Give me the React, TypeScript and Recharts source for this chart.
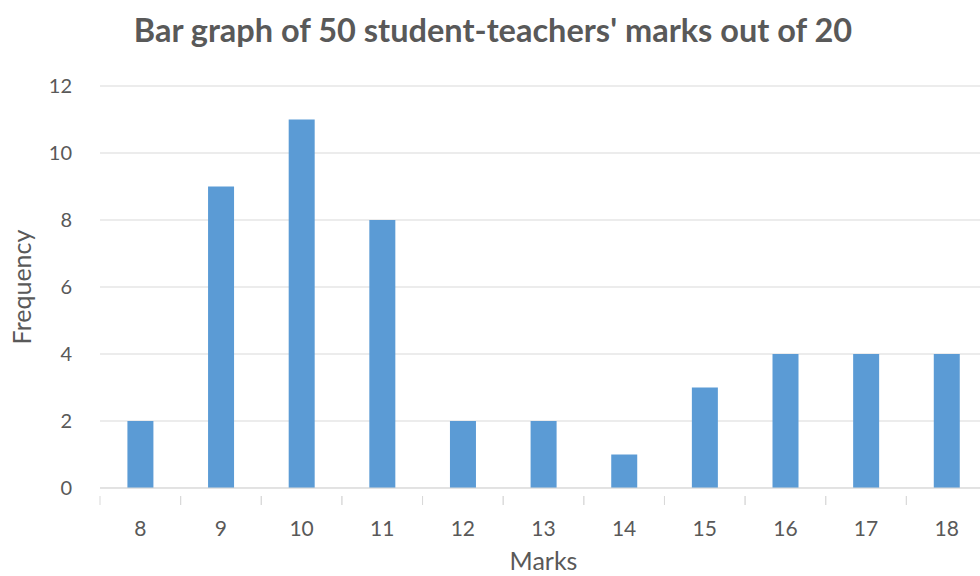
import { Bar, BarChart, CartesianGrid, XAxis, YAxis } from "recharts";

const marks = ["8", "9", "10", "11", "12", "13", "14", "15", "16", "17", "18"];
const frequency = [2, 9, 11, 8, 2, 2, 1, 3, 4, 4, 4];
const yTicks = [0, 2, 4, 6, 8, 10, 12];

const data = marks.map((m, i) => ({ mark: m, freq: frequency[i] }));

const textColor = "#595959";
const lineColor = "#d9d9d9";
const font = "Lato, 'Open Sans', sans-serif";

function MarkTick(props: any) {
  const { x, y, payload } = props;
  const half = payload?.offset ?? 40.3;
  return (
    <g>
      <line x1={x - half} x2={x - half} y1={y} y2={y + 9} stroke={lineColor} />
      <line x1={x + half} x2={x + half} y1={y} y2={y + 9} stroke={lineColor} />
      <text x={x} y={y + 40} textAnchor="middle" fill={textColor} fontSize={21} fontFamily={font}>
        {payload.value}
      </text>
    </g>
  );
}

export default function App() {
  return (
    <div
      style={{
        position: "absolute",
        left: 0,
        top: 0,
        width: 980,
        height: 576,
        overflow: "hidden",
        background: "#fff",
        fontFamily: font,
      }}
    >
      <div
        style={{
          position: "absolute",
          top: 10,
          left: 0,
          width: 986,
          textAlign: "center",
          fontSize: 32.5,
          fontWeight: 700,
          color: textColor,
        }}
      >
        Bar graph of 50 student-teachers' marks out of 20
      </div>
      <BarChart
        width={987}
        height={576}
        data={data}
        margin={{ top: 86, right: 0, bottom: 0, left: 0 }}
        barCategoryGap="34%"
      >
        <CartesianGrid stroke={lineColor} vertical={false} />
        <XAxis
          dataKey="mark"
          height={88}
          stroke={lineColor}
          tickLine={false}
          tick={<MarkTick />}
          interval={0}
          label={{ value: "Marks", position: "insideBottom", offset: 6, fill: textColor, fontSize: 25, fontFamily: font }}
        />
        <YAxis
          width={100}
          domain={[0, 12]}
          ticks={yTicks}
          axisLine={false}
          tickLine={false}
          tickMargin={22}
          tick={{ fill: textColor, fontSize: 20, fontFamily: font }}
          label={{ value: "Frequency", angle: -90, position: "insideLeft", offset: 22, fill: textColor, fontSize: 25, fontFamily: font, style: { textAnchor: "middle" } }}
        />
        <Bar dataKey="freq" fill="#5b9bd5" isAnimationActive={false} />
      </BarChart>
    </div>
  );
}
